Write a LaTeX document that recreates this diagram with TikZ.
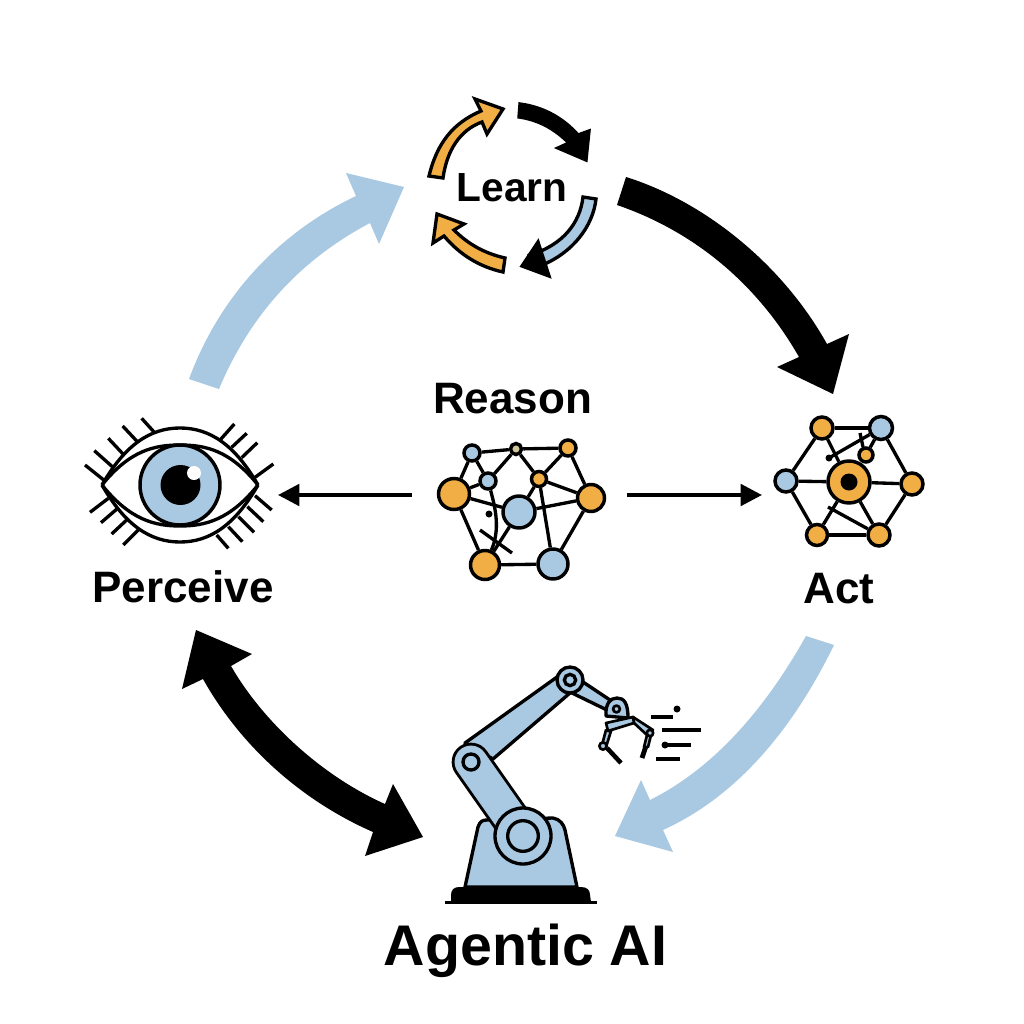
\documentclass[tikz,border=0pt]{standalone}
\usepackage{fontspec}
\setmainfont{Liberation Sans}
\usetikzlibrary{arrows.meta}
\definecolor{oran}{HTML}{F1AE45}
\definecolor{blu}{HTML}{A9C9E2}
\definecolor{tanc}{HTML}{CFC79A}
\pgfdeclarelayer{bg}
\pgfsetlayers{bg,main}
\tikzset{
  lbl/.style={font=\bfseries\fontsize{#1}{#1}\selectfont,text=black,inner sep=0pt},
  net/.style={circle,draw=black,line width=2.6pt,inner sep=0pt},
  edge/.style={draw=black,line width=2.5pt},
  ink/.style={draw=black,line width=2.5pt,line join=round},
  fine/.style={draw=black,line width=2pt,line join=round},
  lash/.style={draw=black,line width=2.5pt},
  outl/.style={draw=black,line width=2.5pt,line join=miter},
  bigblu/.style={fill=blu},
  bigblk/.style={fill=black},
  conn/.style={draw=black,line width=3pt,-{Triangle[length=16pt,width=16pt]}},
}
\newcommand{\nd}[4]{\node[net,fill=#4,minimum size=#3*1.5pt] (#1) at (#2) {};}
\begin{document}
\begin{tikzpicture}[x=0.75pt,y=-0.75pt]
\useasboundingbox (0,0) rectangle (1024,1024);
\begin{pgfonlayer}{bg}\fill[white] (0,0) rectangle (1024,1024);\end{pgfonlayer}

% big arrows
\fill[bigblk] (626,177) .. controls (700,200) and (780,260) .. (827,344) -- (849,334) -- (833,394) -- (777,367) -- (799,357) .. controls (755,280) and (690,230) .. (617,205) -- cycle;
\fill[bigblu] (189,379) .. controls (220,295) and (280,232) .. (356,196) -- (346,173) -- (404,187) -- (379,244) -- (370,223) .. controls (300,260) and (250,315) .. (219,389) -- cycle;
\fill[bigblu] (806,636) .. controls (770,700) and (720,765) .. (650,800) -- (641,780) -- (615,836) -- (673,852) -- (663,830) .. controls (740,795) and (795,725) .. (834,645) -- cycle;
\fill[bigblk] (196,630) -- (252,654) -- (231,666) .. controls (262,720) and (320,775) .. (385,804) -- (393,784) -- (423,837) -- (365,856) -- (373,832) .. controls (300,800) and (240,745) .. (203,679) -- (182,689) -- cycle;

% Learn
\node[lbl=30.5pt] (learn) at (512,188) {Learn};
\filldraw[outl,fill=oran] (429,176) .. controls (437,143) and (453,123) .. (481,111) -- (475,99) -- (503,109) -- (487,134) -- (482,122) .. controls (460,130) and (447,150) .. (443,178) -- cycle;
\filldraw[outl,fill=black] (520,104) .. controls (543,107) and (563,118) .. (578,135) -- (589,131) -- (586,160) -- (558,148) -- (569,143) .. controls (556,130) and (540,120) .. (519,117) -- cycle;
\filldraw[outl,fill=blu] (596,199) .. controls (593,226) and (573,253) .. (540,266) -- (530,255) .. controls (563,245) and (580,223) .. (583,197) -- cycle;
\filldraw[outl,fill=black] (549,276) -- (522,266) -- (538,242) -- cycle;
\filldraw[outl,fill=oran] (505,258) .. controls (483,253) and (467,243) .. (454,230) -- (464,224) -- (437,214) -- (433,243) -- (444,236) .. controls (460,255) and (480,267) .. (503,272) -- cycle;

% Reason network
\nd{A}{472,453}{8}{blu}
\nd{B}{516,449}{5.5}{tanc}
\nd{C}{568,448}{8}{oran}
\nd{D}{488,481}{8}{blu}
\nd{E}{539,479}{7.5}{oran}
\nd{F}{454,494}{15.5}{oran}
\nd{G}{591,498}{13.5}{oran}
\nd{H}{519,512}{16}{blu}
\nd{I}{485,565}{14.5}{oran}
\nd{J}{553,564}{15}{blu}
\node[lbl=33pt] (reason) at (512.5,399) {Reason};
\coordinate (rL) at (412,495);
\coordinate (rR) at (627,495);
\coordinate (xa) at (480,530);
\coordinate (xb) at (512,553);
\fill (489,514) circle (3.5);
\begin{pgfonlayer}{bg}
\foreach \a/\b in {A/B,B/C,A/F,A/D,D/F,B/D,B/E,C/E,C/G,E/G,E/H,F/H,H/G,F/I,G/J,E/J,I/J,H/I}
  \draw[edge] (\a) -- (\b);
\draw[edge] (D) .. controls (496,510) and (500,530) .. (I);
\draw[edge] (xa) -- (xb);
\end{pgfonlayer}

% Act network
\nd{TL}{822,428}{11}{oran}
\nd{TR}{881,428}{11.5}{blu}
\nd{Lf}{786,481}{11}{blu}
\nd{Rt}{912,484}{11}{oran}
\nd{BL}{817,535}{10.5}{oran}
\nd{BR}{879,535}{11}{oran}
\nd{Cn}{849,482}{21}{oran}
\nd{Sm}{866,455}{7}{oran}
\fill (Cn) circle (8.5);
\coordinate (d1) at (829,458);
\coordinate (d2) at (828,507);
\coordinate (t1) at (860,433);
\coordinate (t2) at (863,447);
\fill (d1) circle (3.5);
\begin{pgfonlayer}{bg}
\foreach \a/\b in {TL/TR,TR/Rt,Rt/BR,BR/BL,BL/Lf,Lf/TL,Lf/Cn,Rt/Cn,TL/Cn,BL/Cn,BR/Cn,TR/Sm}
  \draw[edge] (\a) -- (\b);
\draw[edge] (d1) -- (TR);
\draw[edge] (d2) -- (BR);
\draw[edge] (t1) -- (t2);
\end{pgfonlayer}
\node[lbl=33pt] (act) at (839,589) {Act};

% connectors
\coordinate (pE) at (278,495);
\coordinate (aE) at (762,495);
\draw[conn] (rL) -- (pE);
\draw[conn] (rR) -- (aE);

% Eye
\node[circle,fill=blu,draw=black,line width=2.6pt,minimum size=60pt,inner sep=0pt] (iris) at (180,485) {};
\fill (180.5,485) circle (20);
\fill[white] (194,473) circle (7);
\draw[ink] (102,485) .. controls (130,450) and (155,445) .. (180,445) .. controls (205,445) and (230,450) .. (258,485);
\draw[ink] (102,485) .. controls (130,520) and (155,526) .. (180,526) .. controls (205,526) and (230,520) .. (258,485);
\draw[ink] (102,485) .. controls (125,445) and (150,428) .. (180,428) .. controls (210,428) and (235,445) .. (258,485);
\draw[ink] (102,485) .. controls (125,525) and (150,542) .. (180,542) .. controls (210,542) and (235,525) .. (258,485);
\foreach \xa/\ya/\xb/\yb in {30/180/90/228,58/137/112/185,100/100/145/148,143/63/187/110,200/40/238/82,478/57/437/103,515/85/470/127,547/113/500/158,595/177/540/217,45/322/100/280,78/353/128/310,110/387/155/345,145/420/190/375,460/430/425/390,502/410/460/365,537/382/490/335,565/350/517/305,590/315/540/272}
  \draw[lash] ({75+\xa/3},{405+\ya/3}) -- ({75+\xb/3},{405+\yb/3});
\node[lbl=33pt] (perceive) at (183,587) {Perceive};

% Robot
\filldraw[ink,fill=blu] (465,887) -- (478,827) .. controls (480,821) and (483,820) .. (487,820) -- (553,818) .. controls (560,819) and (564,825) .. (565,830) -- (577,887) -- cycle;
\fill (451,902) -- (451,895) .. controls (451,890) and (454,887) .. (459,887) -- (581,887) .. controls (587,887) and (590,890) .. (590,895) -- (591,902) -- cycle;
\draw[black,line width=1.8pt] (445,902.5) -- (597,902.5);
\filldraw[ink,fill=blu] (465,743) -- (557,677) -- (570,693) -- (493,759) -- cycle;
\filldraw[ink,fill=blu] (583,682) -- (610,700) -- (607,710) -- (572,693) -- cycle;
\draw[black,line width=29pt,line cap=round] (471,762) -- (523,836);
\draw[blu,line width=24.6pt,line cap=round] (471,762) -- (523,836);
\filldraw[ink,fill=blu] (471,762) circle (8);
\node[circle,draw=black,fill=blu,line width=2.5pt,minimum size=42pt,inner sep=0pt] (joint) at (523,836) {};
\node[circle,draw=black,fill=blu,line width=2.5pt,minimum size=23pt,inner sep=0pt] at (joint) {};
\node[circle,draw=black,fill=blu,line width=2.5pt,minimum size=19.5pt,inner sep=0pt] (sh) at (570,680) {};
\node[circle,draw=black,fill=blu,line width=2.5pt,minimum size=8.5pt,inner sep=0pt] at (sh) {};
% gripper
\filldraw[fine,fill=blu] (633,717) -- (653,730) -- (647,735) -- (634,723) -- cycle;
\filldraw[fine,fill=blu] (606,730) -- (602,745) -- (606,747) -- (611,731) -- cycle;
\filldraw[fine,fill=blu] (651,735) -- (648,747) -- (644,747) -- (647,735) -- cycle;
\draw[black,line width=3.6pt] (646,746) -- (642,758);
\draw[black,line width=3.4pt] (607,748) -- (621,763);
\filldraw[fine,fill=blu] (603,746) circle (3.6);
\filldraw[fine,fill=blu] (650,733) circle (3.2);
\filldraw[ink,fill=blu] (606,716) .. controls (605,703) and (611,698) .. (617,698) .. controls (624,698) and (628,703) .. (628,718) -- cycle;
\filldraw[fine,fill=blu] (616.5,709) circle (3.4);
\filldraw[fine,fill=blu] (606,723) -- (633,717) -- (634,723) -- (608,731) -- cycle;
\draw[lash] (651,717) -- (673,717);
\fill (677,709) circle (3.5);
\draw[lash] (662,730) -- (701,730);
\draw[lash] (665,745) -- (691,745);
\fill (665,745) circle (3.5);
\draw[lash] (656,759) -- (680,759);
\node[lbl=43pt] (agentic) at (525.5,951) {Agentic AI};
\end{tikzpicture}
\end{document}
